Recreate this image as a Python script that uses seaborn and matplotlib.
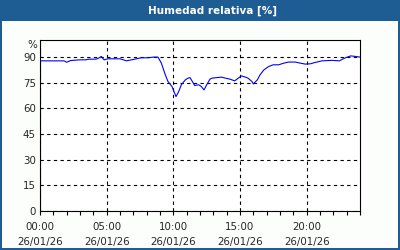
import matplotlib
matplotlib.use("Agg")
import matplotlib.pyplot as plt
import seaborn as sns
import pandas as pd
from matplotlib.patches import Rectangle
from matplotlib.ticker import MultipleLocator, FixedLocator

hours = [0.0, 1.0, 1.8, 2.0, 2.3, 3.0, 3.4, 3.7, 4.2, 4.4, 4.6, 4.8, 5.1, 5.6, 6.0, 6.5,
         7.1, 7.6, 8.1, 8.5, 8.85, 9.1, 9.4, 9.6, 9.9, 10.1, 10.2, 10.4, 10.6, 10.9,
         11.1, 11.25, 11.5, 11.6, 11.9, 12.1, 12.3, 12.5, 12.75, 12.9, 13.6, 13.9,
         14.25, 14.6, 15.1, 15.4, 15.6, 15.9, 16.0, 16.3, 16.5, 16.8, 17.15, 17.5,
         17.9, 18.3, 18.65, 19.15, 19.5, 19.9, 20.3, 20.6, 21.15, 21.9, 22.45, 22.9,
         23.3, 23.65, 24.0]
humidity = [87.8, 87.8, 87.8, 87.0, 88.0, 88.4, 88.4, 88.8, 88.8, 89.4, 90.4, 88.4, 89.0,
            89.0, 89.0, 87.8, 88.8, 89.6, 89.6, 90.0, 90.0, 86.5, 79.6, 75.7, 72.8, 68.9,
            66.9, 69.8, 73.8, 76.7, 77.7, 78.0, 74.8, 73.4, 73.8, 72.8, 70.8, 73.8, 77.1,
            77.7, 78.3, 77.7, 77.1, 76.1, 79.0, 78.3, 77.7, 75.7, 74.3, 76.7, 79.6, 82.6,
            84.5, 85.5, 85.5, 86.5, 87.1, 87.1, 86.5, 85.9, 86.1, 86.8, 87.8, 88.1, 87.8,
            89.6, 90.7, 90.4, 90.0]
major_hours = [0, 5, 10, 15, 20]
major_labels = ["00:00\n26/01/26", "05:00\n26/01/26", "10:00\n26/01/26",
                "15:00\n26/01/26", "20:00\n26/01/26"]
y_ticks = [0, 15, 30, 45, 60, 75, 90]
title = "Humedad relativa [%]"
unit = "%"

sns.set_style("white")
plt.rcParams['font.family'] = ['DejaVu Sans']

df = pd.DataFrame({"h": hours, "v": humidity})

fig = plt.figure(figsize=(4, 2.5), dpi=100)
fig.patch.set_facecolor("#fbfefb")
ax = fig.add_axes([40/400, 39/250, 320/400, 171/250])
ax.set_facecolor("white")

sns.lineplot(data=df, x="h", y="v", ax=ax, color="#0000ff", linewidth=0.8)

ax.set_xlim(0, 24)
ax.set_ylim(0, 100)
ax.xaxis.set_major_locator(FixedLocator(major_hours))
ax.set_xticklabels(major_labels)
ax.xaxis.set_minor_locator(MultipleLocator(1))
ax.set_yticks(y_ticks)
ax.tick_params(axis="x", which="major", direction="out", length=3, width=0.8,
               color="black", labelsize=7.4, pad=5)
ax.tick_params(axis="x", which="minor", direction="out", length=3, width=0.8, color="black")
ax.tick_params(axis="y", length=0, labelsize=7.4, pad=3)
ax.tick_params(axis="x", which="both", bottom=True)
ax.set_xlabel("")
ax.set_ylabel("")
for lab in ax.get_xticklabels():
    lab.set_linespacing(1.55)

ax.grid(True, which="major", color="black", linestyle=(0, (3, 3)), linewidth=0.8)
for s in ax.spines.values():
    s.set_color("black")
    s.set_linewidth(0.8)
    s.set_visible(True)

ax.text(-0.01, 1.0, unit, transform=ax.transAxes, ha="right", va="top", fontsize=7.4)

bar = "#1e5d94"
fig.patches.append(Rectangle((0, 1 - 21/250), 1, 21/250, transform=fig.transFigure,
                             facecolor=bar, edgecolor="none", zorder=-1))
fig.patches.append(Rectangle((0, 0), 2/400, 1, transform=fig.transFigure,
                             facecolor=bar, edgecolor="none"))
fig.patches.append(Rectangle((1 - 2/400, 0), 2/400, 1, transform=fig.transFigure,
                             facecolor=bar, edgecolor="none"))
fig.patches.append(Rectangle((0, 0), 1, 2/250, transform=fig.transFigure,
                             facecolor=bar, edgecolor="none"))
fig.text(213/400, 1 - 10.5/250, title, color="white", fontsize=7.5, fontweight="bold",
         ha="center", va="center")

fig.savefig("out.png", dpi=100, facecolor=fig.get_facecolor())
